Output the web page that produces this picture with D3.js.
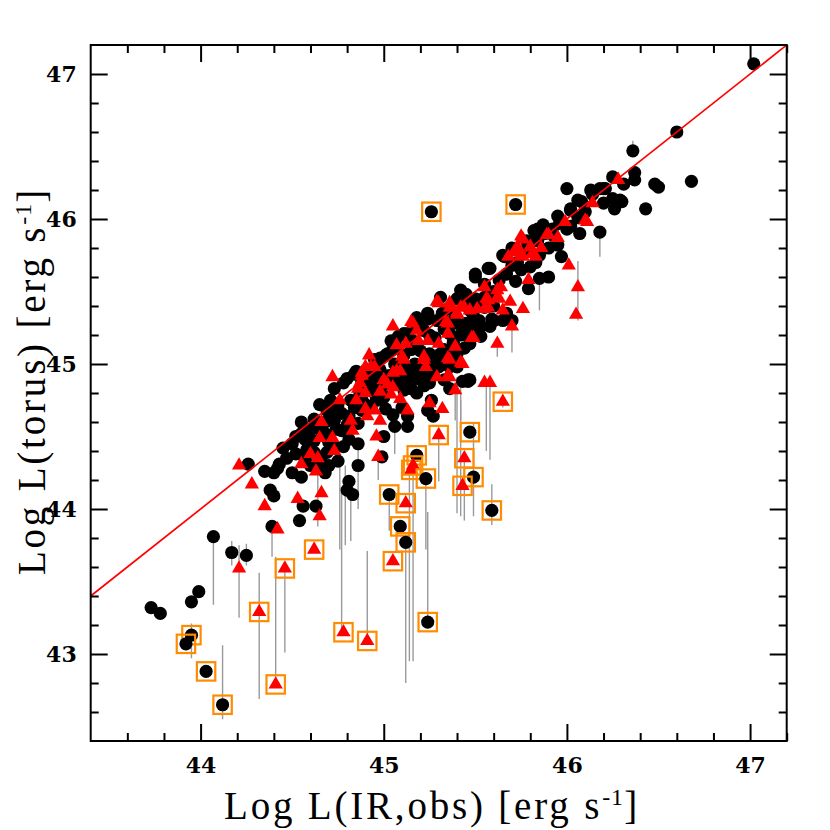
<!DOCTYPE html>
<html><head><meta charset="utf-8">
<script src="https://cdn.jsdelivr.net/npm/d3@7"></script>
<style>body{margin:0;background:#fff}</style>
</head><body>
<svg id="c" width="830" height="830"></svg>
<script>
// ---- axis settings ----
const xDomain = [43.4, 47.2];
const yDomain = [42.4, 47.2];
const xMajor = [44, 45, 46, 47];
const yMajor = [43, 44, 45, 46, 47];
const xMinor = [43.6, 43.8, 44.2, 44.4, 44.6, 44.8, 45.2, 45.4, 45.6, 45.8, 46.2, 46.4, 46.6, 46.8, 47.2];
const yMinor = [42.6, 42.8, 43.2, 43.4, 43.6, 43.8, 44.2, 44.4, 44.6, 44.8, 45.2, 45.4, 45.6, 45.8, 46.2, 46.4, 46.6, 46.8];
const xTitle = "Log L(IR,obs) [erg s";
const yTitle = "Log L(torus) [erg s";
const unitExp = "-1";

// ---- data: black circles [logLIR, logLtorus] ----
const circles = [
[43.73,43.32],[43.78,43.28],[43.95,43.36],[43.99,43.43],[44.07,43.81],[44.17,43.70],[44.25,43.68],
[44.26,44.31],[44.35,44.26],[44.40,44.25],[44.42,44.28],[44.38,44.13],[44.40,44.09],[44.39,43.88],[44.43,44.31],
[44.55,44.22],[44.54,43.92],[44.56,44.02],[44.63,44.02],[44.65,44.31],
[44.65,44.72],[44.58,44.54],[44.57,44.48],[44.58,44.41],[44.62,44.39],[44.66,44.36],[44.69,44.39],[44.75,44.33],[44.73,44.43],[44.78,44.43],[44.81,44.48],[44.86,44.45],[44.86,44.30],[44.81,44.19],[44.80,44.13],[44.83,44.10],
[44.73,44.61],[44.71,44.75],[44.73,44.83],[44.80,44.90],[44.85,44.95],[44.88,44.88],[44.93,44.87],[44.95,44.92],[44.98,44.96],[45.01,45.06],[45.05,45.10],[45.00,44.77],[44.96,44.75],[45.01,44.69],[45.06,44.57],[45.13,44.57],[45.13,44.64],[45.00,44.50],[44.99,44.36],[44.93,44.70],[44.88,44.68],[44.86,44.59],[44.81,44.64],[44.77,44.54],[44.82,44.75],[44.87,44.80],
[45.07,44.98],[45.11,45.06],[45.15,44.91],[45.18,44.90],[45.15,44.83],[45.11,44.82],[45.16,45.16],[45.18,45.26],[45.22,45.23],[45.25,45.07],[45.30,44.98],[45.26,44.75],[45.27,44.64],[45.24,44.68],[45.33,44.89],[45.36,44.83],[45.43,44.88],[45.47,44.89],[45.36,44.98],[45.37,45.05],[45.40,45.07],[45.44,45.11],[45.47,45.21],[45.53,45.26],[45.59,45.31],[45.65,45.30],[45.67,45.35],[45.47,45.37],[45.55,45.39],[45.36,45.21],[45.33,45.24],[45.30,45.30],[45.24,45.31],[45.11,45.21],[45.07,45.12],[45.02,45.07],
[45.50,45.62],[45.57,45.66],[45.65,45.75],[45.82,45.92],[45.84,45.85],[45.80,45.67],[45.79,45.52],[45.60,45.30],[45.70,45.30],[45.42,45.51],[45.46,45.42],[45.31,45.46],[45.24,45.35],[45.29,45.30],[45.20,45.30],[45.18,45.32],[45.13,45.21],[45.08,45.19],[45.04,45.16],[44.98,45.04],[44.95,45.03],[44.84,44.93],[44.78,44.87],[45.13,44.89],[45.25,44.87],[45.40,44.98],[45.46,44.89],[45.31,45.07],[45.25,45.03],[45.47,45.14],[45.53,45.19],[45.49,45.26],[45.58,45.26],
[45.50,45.60],[45.58,45.66],[45.66,45.74],[45.85,45.59],[45.90,45.60],[45.84,45.93],[45.87,45.96],[45.95,46.02],[46.02,46.07],[46.06,46.13],[46.13,46.20],[46.20,46.21],[46.29,46.13],[46.26,46.07],[46.18,45.91],[46.07,45.90],[46.14,46.17],[46.00,46.21],[45.97,45.74],[45.46,44.88],
[46.25,46.29],[46.31,46.24],[46.37,46.32],[46.37,46.27],[46.43,46.07],[46.48,46.24],[46.50,46.22],[46.68,46.26],[46.60,46.60],[46.36,46.47],[47.02,47.07],[46.18,46.21],[46.21,46.21],[46.08,46.12],[46.20,46.11],[46.25,46.14],[46.30,46.12],[46.02,46.06],[46.06,46.01],[46.00,45.93],
[44.45,44.42],[44.47,44.35],[44.50,44.25],[44.52,44.38],[44.52,44.50],[44.55,44.60],[44.60,44.55],[44.62,44.47],[44.68,44.52],[44.70,44.46],[44.74,44.55],[44.77,44.66],[44.80,44.58],[44.84,44.70],[44.88,44.76],[44.91,44.84],[44.96,44.86],[44.99,44.82],[45.03,44.92],[45.08,44.88],[45.12,44.97],[45.17,45.00],[45.20,45.09],[45.22,44.93],[45.27,44.95],[45.30,45.05],[45.33,45.10],[45.38,45.15],[45.42,45.20],[45.45,45.28],[45.49,45.33],[45.52,45.40],[45.55,45.46],[45.60,45.50],[45.63,45.58],[45.67,45.62],[45.70,45.68],[45.73,45.70],[45.77,45.78],[45.80,45.84],[45.84,45.85],[45.88,45.90],[45.92,45.93],[45.96,45.97],
[44.62,44.62],[44.69,44.68],[44.75,44.72],[44.93,44.93],[45.06,45.00],[45.15,45.10],[45.28,45.18],[45.40,45.28],[45.58,45.43],[45.72,45.57],[45.95,45.82],[46.02,45.95],[46.10,46.05],
[44.50,44.45],[44.55,44.52],[44.60,44.48],[44.65,44.55],[44.68,44.60],[44.72,44.65],[44.60,44.30],[44.70,44.30],[44.68,44.25],[44.57,44.35],
[44.90,44.72],[44.95,44.80],[45.00,44.85],[45.05,44.90],[45.10,44.92],[45.15,44.95],[45.20,44.96],[45.10,44.70],[45.05,44.65],[45.18,44.80],[45.22,44.85],
[45.25,45.20],[45.32,45.35],[45.38,45.30],[45.44,45.25],[45.50,45.45],[45.45,45.48],[45.40,45.45],[45.55,45.55],[45.60,45.40],[45.52,45.30],[45.35,45.38],
[45.70,45.80],[45.75,45.65],[45.78,45.85],[45.85,45.75],[45.90,45.80],[45.93,45.88],[45.83,45.70]
];

// ---- data: red triangles [logLIR, logLtorus] ----
const triangles = [
[44.21,44.30],[44.28,44.17],[44.35,44.02],[44.42,43.86],[44.21,43.59],[44.55,44.31],[44.53,44.07],[44.65,43.95],[44.66,44.11],[44.63,44.26],[44.60,44.38],[44.64,44.35],
[44.73,44.40],[44.65,44.49],[44.72,44.49],[44.66,44.60],[44.76,44.75],[44.82,44.61],[44.83,44.54],[44.72,44.91],[44.92,45.06],[44.93,44.98],[44.88,44.92],[44.86,44.83],[44.90,44.80],[44.90,44.69],[44.85,44.75],[44.98,44.81],[44.95,44.68],[44.98,44.61],[44.91,44.64],[44.96,44.50],[44.97,44.36],[45.04,44.79],[45.00,44.89],[45.05,44.84],[45.09,44.76],[45.13,44.68],[45.11,45.03],[45.07,44.95],[45.05,45.26],[45.07,45.13],[45.12,45.14],[45.16,45.28],[45.18,45.23],[45.19,45.16],[45.24,45.16],[45.30,45.14],[45.22,45.03],[45.23,44.98],[45.29,44.91],[45.36,44.91],[45.36,45.03],[45.43,45.00],[45.39,45.12],[45.35,45.21],[45.34,45.29],[45.40,45.35],[45.30,45.42],[45.36,45.42],[45.44,45.39],[45.51,45.38],[45.57,45.39],[45.65,45.37],[45.70,45.26],[45.48,45.18],[45.62,45.14],[45.39,44.82],[45.32,44.69],[45.25,44.73],[45.55,44.87],[45.58,44.87],
[45.75,45.88],[45.71,45.77],[45.75,45.75],[45.81,45.76],[45.73,45.81],[45.79,45.58],[45.55,45.53],[45.62,45.51],[45.64,45.53],[45.57,45.44],[45.63,45.45],[45.69,45.43],[45.76,45.38],[45.55,45.38],[45.47,45.37],[45.36,45.39],[45.40,45.34],[45.29,45.43],[45.35,45.28],[45.15,45.29],[45.22,45.05],[45.10,45.05],[45.35,45.04],[45.09,44.95],[45.05,44.94],[44.90,44.98],[44.95,44.98],[44.88,44.94],[44.87,44.87],[45.02,44.86],
[46.28,46.27],[46.14,46.11],[46.10,45.99],[45.99,45.98],[46.11,45.98],[46.01,45.68],[46.06,45.53],[46.05,45.34],[45.95,45.87],[45.90,45.89],[45.76,45.86],[45.86,45.80],[45.83,45.74],[45.76,45.74],[45.68,45.74],[45.49,45.18],[45.35,44.92],[45.42,45.01],[45.37,45.39],[45.42,45.39],[45.56,45.45],[45.62,45.46],[45.72,45.78],[45.80,45.81],[45.89,45.89]
];

// ---- data: flagged sources (orange squares) [logLIR, logLtorus, kind] ----
const flagged = [
[45.26,46.05,"c"],[45.72,46.10,"c"],[45.65,44.74,"t"],[45.47,44.53,"c"],[45.30,44.51,"t"],[45.18,44.37,"c"],
[45.15,44.27,"t"],[45.16,44.30,"t"],[45.23,44.21,"c"],[45.44,44.35,"t"],[45.49,44.22,"c"],[45.43,44.16,"t"],
[45.59,43.99,"c"],[45.03,44.10,"c"],[45.12,44.04,"t"],[45.09,43.88,"c"],[45.12,43.77,"c"],[45.05,43.64,"t"],
[45.24,43.22,"c"],[44.91,43.09,"t"],[44.78,43.15,"t"],[44.62,43.72,"t"],[44.46,43.59,"t"],[44.32,43.29,"t"],
[44.41,42.79,"t"],[44.12,42.65,"c"],[44.03,42.88,"c"],[43.95,43.13,"c"],[43.92,43.07,"c"]
];

// ---- data: vertical uncertainty bars [logLIR, low, high] ----
const errorBars = [
[44.07,43.34,43.81],[44.17,43.61,43.78],[44.25,43.61,43.76],[44.21,43.25,43.75],[44.32,42.69,43.56],
[44.46,43.01,43.59],[44.41,42.79,43.67],[44.12,42.55,43.06],[43.95,42.97,43.21],[44.39,43.67,43.88],
[44.77,43.15,44.15],[44.91,43.09,43.71],[45.24,43.22,43.98],[45.12,42.80,43.77],[45.14,42.95,44.30],
[45.16,42.95,44.26],[45.23,43.72,44.21],[45.30,44.19,44.51],[45.59,43.89,44.17],[45.03,43.85,44.10],
[45.42,43.95,44.75],[45.44,43.92,44.35],[45.49,43.95,44.60],[45.40,43.97,44.91],[45.56,44.40,44.87],
[45.58,44.34,44.87],[45.70,45.08,45.26],[45.62,45.05,45.14],[46.06,45.30,45.71],[46.18,45.74,45.91],
[46.36,46.47,46.54],[44.76,43.72,44.33],[44.79,43.75,44.30],[44.82,43.78,44.20],[44.64,43.88,44.26],
[45.85,45.37,45.59],[45.39,44.61,44.82],[45.42,44.61,44.90],[45.65,44.70,44.78],
[44.86,44.00,44.45],[45.06,44.38,44.57],[44.97,44.20,44.36]
];

// ---- drawing ----
const svg = d3.select("#c");
const L = 90.7, T = 45, W = 696, H = 696;
const x = d3.scaleLinear().domain(xDomain).range([L, L + W]);
const y = d3.scaleLinear().domain(yDomain).range([T + H, T]);

svg.append("clipPath").attr("id", "clip").append("rect")
  .attr("x", L).attr("y", T).attr("width", W).attr("height", H);
const g = svg.append("g").attr("clip-path", "url(#clip)");

g.selectAll("line.err").data(errorBars).join("line").attr("class", "err")
  .attr("x1", d => x(d[0])).attr("x2", d => x(d[0]))
  .attr("y1", d => y(d[1])).attr("y2", d => y(d[2]))
  .attr("stroke", "#9a9a9a").attr("stroke-width", 1.4);

g.selectAll("circle.pt").data(circles).join("circle").attr("class", "pt")
  .attr("cx", d => x(d[0])).attr("cy", d => y(d[1])).attr("r", 6.6).attr("fill", "#000");

const tri = d3.symbol().type(d3.symbolTriangle).size(88);
g.selectAll("path.tri").data(triangles).join("path").attr("class", "tri")
  .attr("d", tri).attr("transform", d => `translate(${x(d[0])},${y(d[1])})`).attr("fill", "#ff0000");

g.append("line")
  .attr("x1", x(xDomain[0])).attr("y1", y(xDomain[0]))
  .attr("x2", x(xDomain[1])).attr("y2", y(xDomain[1]))
  .attr("stroke", "#ff0000").attr("stroke-width", 1.7);

const fl = g.selectAll("g.fl").data(flagged).join("g").attr("class", "fl")
  .attr("transform", d => `translate(${x(d[0])},${y(d[1])})`);
fl.filter(d => d[2] === "c").append("circle").attr("r", 6.6).attr("fill", "#000");
fl.filter(d => d[2] === "t").append("path").attr("d", tri).attr("fill", "#ff0000");
fl.append("rect").attr("x", -9.2).attr("y", -9.2).attr("width", 18.4).attr("height", 18.4)
  .attr("fill", "none").attr("stroke", "#ff8c00").attr("stroke-width", 2.2);

// axes
function styleAxis(sel) {
  sel.select(".domain").remove();
  sel.selectAll(".tick line").attr("stroke", "#000").attr("stroke-width", 2);
  sel.selectAll("text").attr("fill", "#000").style("font-family", "'DejaVu Serif', serif")
    .style("font-weight", "bold").style("font-size", "22px");
}
const fmt = d3.format("d");
svg.append("g").attr("transform", `translate(0,${T + H})`)
  .call(d3.axisBottom(x).tickValues(xMajor).tickSize(-17).tickSizeOuter(0).tickPadding(16).tickFormat(fmt)).call(styleAxis);
svg.append("g").attr("transform", `translate(0,${T + H})`)
  .call(d3.axisBottom(x).tickValues(xMinor).tickSize(-8).tickSizeOuter(0).tickFormat("")).call(styleAxis);
svg.append("g").attr("transform", `translate(0,${T})`)
  .call(d3.axisTop(x).tickValues(xMajor).tickSize(-17).tickSizeOuter(0).tickFormat("")).call(styleAxis);
svg.append("g").attr("transform", `translate(0,${T})`)
  .call(d3.axisTop(x).tickValues(xMinor).tickSize(-8).tickSizeOuter(0).tickFormat("")).call(styleAxis);
svg.append("g").attr("transform", `translate(${L},0)`)
  .call(d3.axisLeft(y).tickValues(yMajor).tickSize(-17).tickSizeOuter(0).tickPadding(14).tickFormat(fmt)).call(styleAxis);
svg.append("g").attr("transform", `translate(${L},0)`)
  .call(d3.axisLeft(y).tickValues(yMinor).tickSize(-8).tickSizeOuter(0).tickFormat("")).call(styleAxis);
svg.append("g").attr("transform", `translate(${L + W},0)`)
  .call(d3.axisRight(y).tickValues(yMajor).tickSize(-17).tickSizeOuter(0).tickFormat("")).call(styleAxis);
svg.append("g").attr("transform", `translate(${L + W},0)`)
  .call(d3.axisRight(y).tickValues(yMinor).tickSize(-8).tickSizeOuter(0).tickFormat("")).call(styleAxis);

svg.append("rect").attr("x", L).attr("y", T).attr("width", W).attr("height", H)
  .attr("fill", "none").attr("stroke", "#000").attr("stroke-width", 2);

// titles
function title(sel, txt) {
  sel.attr("text-anchor", "middle").style("font-family", "'Liberation Serif', serif")
    .style("font-size", "39px").style("letter-spacing", "2.8px").attr("fill", "#000");
  sel.append("tspan").text(txt);
  sel.append("tspan").attr("dy", -14).style("font-size", "24px").style("letter-spacing", "1px").text(unitExp);
  sel.append("tspan").attr("dy", 14).text("]");
}
svg.append("text").attr("x", 432).attr("y", 819).call(title, xTitle);
svg.append("text").attr("transform", "translate(45,381) rotate(-90)").call(title, yTitle);
</script>
</body></html>
